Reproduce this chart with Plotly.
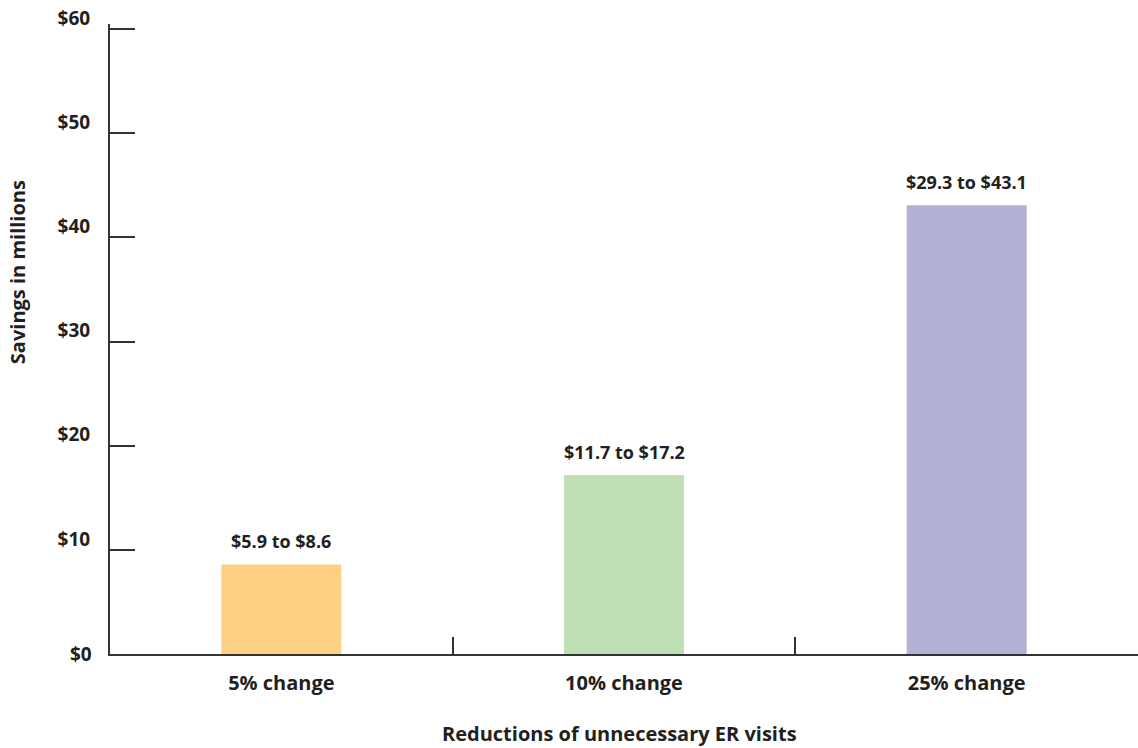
import plotly.graph_objects as go

categories = ["5% change", "10% change", "25% change"]
upper_values = [8.6, 17.2, 43.1]
range_labels = ["$5.9 to $8.6", "$11.7 to $17.2", "$29.3 to $43.1"]
bar_colors = ["#FDD082", "#BEDFB3", "#B3B1D6"]
y_ticks = [0, 10, 20, 30, 40, 50, 60]
y_tick_labels = ["$0", "$10", "$20", "$30", "$40", "$50", "$60"]

FONT = "Open Sans"
TXT = "#231F20"
AX = "#333333"

fig = go.Figure()
fig.add_trace(go.Bar(
    x=categories, y=upper_values, marker=dict(color=bar_colors, line=dict(width=0)),
    width=0.35, hoverinfo="skip",
))

for c, v, t in zip(categories, upper_values, range_labels):
    fig.add_annotation(x=c, y=v, text=f"<b>{t}</b>", showarrow=False,
                       yanchor="bottom", yshift=9,
                       font=dict(family=FONT, size=18, color=TXT))

# "$0" label sits level with the baseline (other tick labels sit slightly above their ticks)
fig.add_annotation(xref="paper", yref="y", x=-0.0155, y=y_ticks[0], xanchor="right",
                   yanchor="middle", text=f"<b>{y_tick_labels[0]}</b>", showarrow=False,
                   font=dict(family=FONT, size=19, color=TXT))

fig.add_annotation(xref="paper", yref="paper", x=-0.0905, y=0.606, xanchor="center",
                   text="<b>Savings in millions</b>", textangle=-90, showarrow=False,
                   font=dict(family=FONT, size=20, color=TXT))
fig.add_annotation(xref="paper", yref="paper", x=0.496, y=-0.126, yanchor="middle",
                   text="<b>Reductions of unnecessary ER visits</b>", showarrow=False,
                   font=dict(family=FONT, size=20, color=TXT))

fig.update_layout(
    width=1138, height=748,
    margin=dict(l=110, r=0, t=24, b=94),
    paper_bgcolor="white", plot_bgcolor="white",
    showlegend=False,
    font=dict(family=FONT, color=TXT),
    xaxis=dict(
        type="category", showgrid=False, showline=True, linecolor=AX, linewidth=2,
        ticks="inside", tickson="boundaries", ticklen=17, tickwidth=2, tickcolor=AX,
        tickfont=dict(family=FONT, size=20, color=TXT),
        ticklabelstandoff=10,
        tickvals=categories, ticktext=[f"<b>{c}</b>" for c in categories],
        range=[-0.5, 2.5], fixedrange=True,
    ),
    yaxis=dict(
        range=[0, 60.5], tickvals=y_ticks,
        ticktext=[""] + [f"<b>{s}</b>" for s in y_tick_labels[1:]],
        showgrid=False, zeroline=False, showline=True, linecolor=AX, linewidth=2,
        ticks="inside", ticklen=25, tickwidth=2, tickcolor=AX,
        tickfont=dict(family=FONT, size=19, color=TXT),
        ticklabelshift=-11, ticklabelstandoff=14,
        fixedrange=True,
    ),
)

fig.write_html("out.html")
